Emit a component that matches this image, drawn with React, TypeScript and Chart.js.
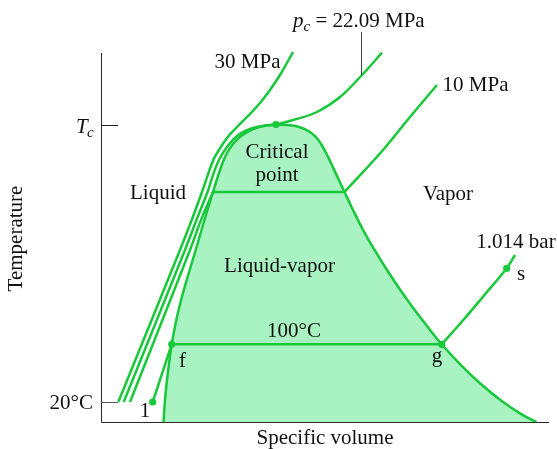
import { useEffect, useRef } from "react";
import { Chart, registerables } from "chart.js";
Chart.register(...registerables);

// Schematic T-v diagram for water (arbitrary units: x = specific volume, y = temperature)
const X_MAX = 446;
const Y_MAX = 370;

const T_20C = 20;
const T_CRIT = 297.5;
const T_10MPA = 230;
const T_100C = 77.7;

const tickValues = [T_20C, T_CRIT];
const tickLabels = ["20°C", "Tc"];

// saturation dome: saturated liquid line (up to the critical point)
const liqSatV = [61.5, 63, 65, 67.5, 69.7, 74.3, 79.1, 84.7, 93.7, 102.4, 111, 116, 120.5, 125, 131, 139, 148, 158, 174];
const liqSatT = [0, 22, 42, 62, 77.7, 102, 122, 142, 172, 202, 230, 246, 259, 269, 278, 286, 291.5, 295.2, 297.5];
// saturated vapor line (from the critical point down)
const vapSatV = [186, 198, 208, 216, 223, 229, 235, 242.5, 251, 261, 273, 285, 298, 311, 325, 339.7, 359.7, 379.7, 399.7, 419.7, 434.5];
const vapSatT = [296.9, 294.8, 290, 282.5, 271, 259, 246, 230, 212, 192.2, 171.3, 152, 132.5, 114.3, 96, 77.7, 56.1, 37.2, 21, 7.6, 0];

// 30 MPa isobar
const p30V = [16.3, 78, 89.7, 100, 111.3, 117, 125, 135, 146, 158, 168, 178, 191];
const p30T = [20, 172, 202, 230, 262, 272, 284, 295, 306, 319, 332, 347, 370];

// critical isobar 22.09 MPa
const pcV = [21.7, 83, 94.5, 105.5, 111, 117, 125, 135, 148, 160, 174, 191, 215, 238, 260, 280];
const pcT = [20, 172, 202, 230, 247, 262, 275, 286, 293, 296, 297.5, 302, 310, 325, 347, 369.3];

// 10 MPa isobar: liquid part, two-phase part, vapor part
const p10LiqV = [28, 88, 99, 111];
const p10LiqT = [20, 172, 202, T_10MPA];
const p10MixV = [111, 242.5];
const p10MixT = [T_10MPA, T_10MPA];
const p10VapV = [242.5, 281, 308, 335];
const p10VapT = [T_10MPA, 272, 305, 337];

// 1.014 bar isobar: states 1, f, g, s
const p1LiqV = [50.7, 69.7];
const p1LiqT = [T_20C, T_100C];
const p1MixV = [69.7, 339.7];
const p1MixT = [T_100C, T_100C];
const p1VapV = [339.7, 361.3, 381, 404.7, 413];
const p1VapT = [T_100C, 102, 125.3, 153.7, 167];

// marked states: critical point, 1, f, g, s
const stateV = [174, 50.7, 69.7, 339.7, 404.7];
const stateT = [T_CRIT, T_20C, T_100C, T_100C, 153.7];

const GREEN = "#17c93a";
const FILL = "#a9f2c2";
const SERIF = "'Liberation Serif', 'Times New Roman', serif";

const pts = (xs: number[], ys: number[]) => xs.map((x, i) => ({ x, y: ys[i] }));

const lineDs = (xs: number[], ys: number[], tension: number) => ({
  data: pts(xs, ys),
  showLine: true,
  borderColor: GREEN,
  borderWidth: 2.5,
  pointRadius: 0,
  fill: false,
  clip: false as const,
  tension,
});

const labelsPlugin = {
  id: "tvLabels",
  afterDraw(chart: any) {
    const { ctx, chartArea } = chart;
    const xs = chart.scales.x;
    const ys = chart.scales.y;
    const px = (v: number) => xs.getPixelForValue(v);
    const py = (v: number) => ys.getPixelForValue(v);
    const L = chartArea.left;
    ctx.save();
    // axes
    ctx.strokeStyle = "#2a2a2a";
    ctx.lineWidth = 1;
    ctx.beginPath();
    ctx.moveTo(L - 0.5, chartArea.top + 1);
    ctx.lineTo(L - 0.5, chartArea.bottom + 0.5);
    ctx.lineTo(chartArea.right + 1, chartArea.bottom + 0.5);
    ctx.stroke();
    // ticks (drawn inward)
    tickValues.forEach((v, i) => {
      const y = Math.round(py(v)) + 0.5;
      ctx.strokeStyle = i === 0 ? "#555" : "#222";
      ctx.beginPath();
      ctx.moveTo(L - 1, y);
      ctx.lineTo(L + 16, y);
      ctx.stroke();
    });
    ctx.fillStyle = "#111";
    ctx.textBaseline = "alphabetic";
    const f = (size: number, italic = false) => `${italic ? "italic " : ""}${size}px ${SERIF}`;
    const txt = (s: string, x: number, y: number, align: CanvasTextAlign = "center", font = f(21)) => {
      ctx.font = font;
      ctx.textAlign = align;
      ctx.fillText(s, x, y);
    };
    // tick labels
    txt(tickLabels[0], L - 9, py(T_20C) + 7, "right");
    {
      const y = Math.round(py(T_CRIT));
      ctx.font = f(21, true);
      ctx.textAlign = "left";
      ctx.fillText("T", L - 26, y + 7.5);
      ctx.font = f(15, true);
      ctx.fillText("c", L - 15, y + 12);
    }
    // region and state labels (positions in data units)
    txt("30 MPa", px(145.5), py(354));
    txt("10 MPa", px(373.5), py(331));
    txt("Critical", px(175), py(264));
    txt("point", px(175), py(241));
    txt("Liquid", px(56), py(223));
    txt("Vapor", px(346), py(222));
    txt("Liquid-vapor", px(177.5), py(150));
    txt("100°C", px(192), py(85));
    txt("f", px(80.5), py(55));
    txt("g", px(335), py(60));
    txt("s", px(419), py(142));
    txt("1", px(43), py(5));
    txt("1.014 bar", px(414), py(174));
    txt("Specific volume", px(223), py(-22));
    // pc label with pointer
    {
      const x0 = px(191);
      const y0 = py(395);
      ctx.font = f(21, true);
      ctx.textAlign = "left";
      ctx.fillText("p", x0, y0);
      const pw = ctx.measureText("p").width;
      ctx.font = f(15, true);
      ctx.fillText("c", x0 + pw, y0 + 4);
      const cw = ctx.measureText("c").width;
      ctx.font = f(21);
      ctx.fillText(" = 22.09 MPa", x0 + pw + cw, y0);
      ctx.strokeStyle = "#444";
      ctx.lineWidth = 1;
      const lx = Math.round(px(259)) + 0.5;
      ctx.beginPath();
      ctx.moveTo(lx, py(390));
      ctx.lineTo(lx, py(347));
      ctx.stroke();
    }
    // y axis title
    ctx.save();
    ctx.translate(22, py(183.5));
    ctx.rotate(-Math.PI / 2);
    txt("Temperature", 0, 0);
    ctx.restore();
    ctx.restore();
  },
};

export default function App() {
  const ref = useRef<HTMLCanvasElement>(null);
  useEffect(() => {
    document.body.style.margin = "0";
    const domeV = [...liqSatV, ...vapSatV];
    const domeT = [...liqSatT, ...vapSatT];
    const chart = new Chart(ref.current!, {
      type: "scatter",
      data: {
        datasets: [
          {
            data: pts(stateV, stateT),
            showLine: false,
            pointRadius: 3.6,
            pointBackgroundColor: GREEN,
            pointBorderColor: GREEN,
            pointBorderWidth: 0,
            clip: false,
          } as any,
          lineDs(p1LiqV, p1LiqT, 0),
          lineDs(p1MixV, p1MixT, 0),
          lineDs(p1VapV, p1VapT, 0.4),
          lineDs(p10LiqV, p10LiqT, 0.4),
          lineDs(p10MixV, p10MixT, 0),
          lineDs(p10VapV, p10VapT, 0.4),
          lineDs(p30V, p30T, 0.4),
          lineDs(pcV, pcT, 0.4),
          {
            ...lineDs(domeV, domeT, 0.4),
            fill: "origin",
            backgroundColor: FILL,
          },
        ],
      },
      options: {
        responsive: false,
        devicePixelRatio: 1,
        animation: false,
        events: [],
        layout: { padding: { left: 102, right: 9, top: 52, bottom: 27 } },
        scales: {
          x: { type: "linear", display: false, min: 0, max: X_MAX },
          y: { type: "linear", display: false, min: 0, max: Y_MAX },
        },
        plugins: {
          legend: { display: false },
          tooltip: { enabled: false },
          filler: { drawTime: "beforeDatasetsDraw" },
        } as any,
      },
      plugins: [labelsPlugin],
    });
    return () => chart.destroy();
  }, []);
  return (
    <div style={{ position: "fixed", left: 0, top: 0, width: 557, height: 449, background: "#fff" }}>
      <canvas ref={ref} width={557} height={449} style={{ width: 557, height: 449, display: "block" }} />
    </div>
  );
}
